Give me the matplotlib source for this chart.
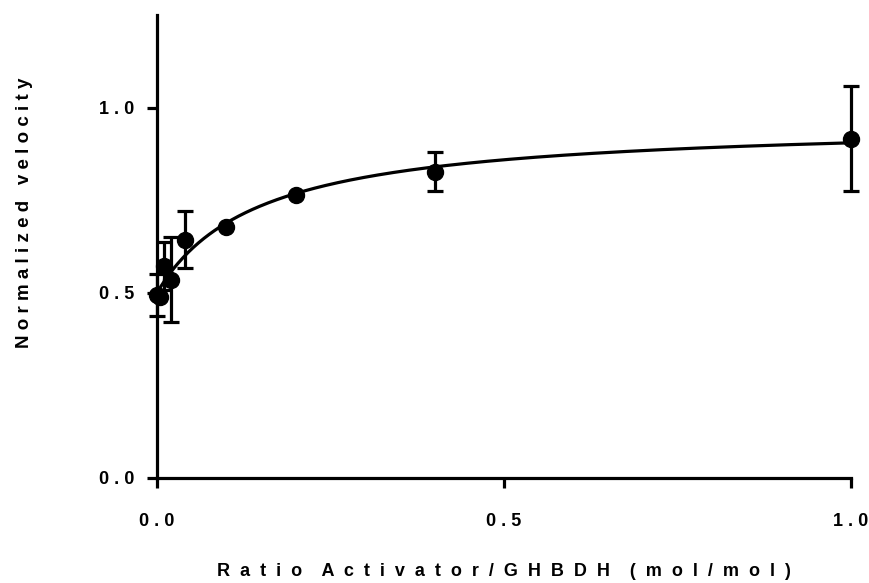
import numpy as np
import matplotlib
matplotlib.use("Agg")
import matplotlib.pyplot as plt

# ---- data ----
ratio = [0.0, 0.005, 0.01, 0.02, 0.04, 0.1, 0.2, 0.4, 1.0]
velocity = [0.495, 0.488, 0.572, 0.535, 0.643, 0.678, 0.765, 0.827, 0.916]
velocity_err = [0.057, 0.0, 0.065, 0.115, 0.077, 0.0, 0.0, 0.053, 0.142]

# hyperbolic fit drawn in the reference: y = base + span * x / (K + x)
fit_base = 0.50
fit_span = 0.464
fit_K = 0.146

x_ticks = [0.0, 0.5, 1.0]
x_tick_labels = ["0.0", "0.5", "1.0"]
y_ticks = [0.0, 0.5, 1.0]
y_tick_labels = ["0.0", "0.5", "1.0"]
x_label_words = ["Ratio", "Activator/GHBDH", "(mol/mol)"]
y_label_words = ["Normalized", "velocity"]

SP = " "


def spaced_word(w, gap=SP):
    return gap.join(list(w))


plt.rcParams['font.family'] = ['Liberation Sans', 'DejaVu Sans']
plt.rcParams['font.weight'] = 'bold'

fig = plt.figure(figsize=(8.7, 5.83), dpi=100)
ax = fig.add_axes([157 / 870, 1 - 478 / 583, 694 / 870, 463 / 583])

xs = np.linspace(0, 1, 400)
ax.plot(xs, fit_base + fit_span * xs / (fit_K + xs), color='black', lw=2.3,
        clip_on=False, zorder=3)

ax.errorbar(ratio, velocity, yerr=velocity_err, fmt='o', color='black',
            ms=11.5, elinewidth=2.3, capsize=6, capthick=2.3, clip_on=False,
            zorder=4)

ax.set_xlim(0, 1)
ax.set_ylim(0, 1.25)
ax.spines['top'].set_visible(False)
ax.spines['right'].set_visible(False)
for s in ('left', 'bottom'):
    ax.spines[s].set_linewidth(2.3)

ax.set_xticks(x_ticks)
ax.set_xticklabels([spaced_word(t) for t in x_tick_labels])
ax.set_yticks(y_ticks)
ax.set_yticklabels([spaced_word(t) for t in y_tick_labels])
ax.tick_params(axis='both', length=7.5, width=2.3, labelsize=13)
ax.tick_params(axis='x', pad=18)
ax.tick_params(axis='y', pad=9)

xlab = (SP * 4).join(spaced_word(w, SP * 2) for w in x_label_words)
ylab = spaced_word(y_label_words[0]) + SP * 3 + spaced_word(y_label_words[1])

ax.set_xlabel(xlab, fontsize=13, fontweight='bold')
ax.set_ylabel(ylab, fontsize=13.5, fontweight='bold')
ax.xaxis.set_label_coords(0.5, (478 - 563) / 463)
ax.yaxis.set_label_coords((25 - 157) / 694, (478 - 213) / 463)
ax.yaxis.label.set_va('center')

fig.savefig("out.png", dpi=100)
